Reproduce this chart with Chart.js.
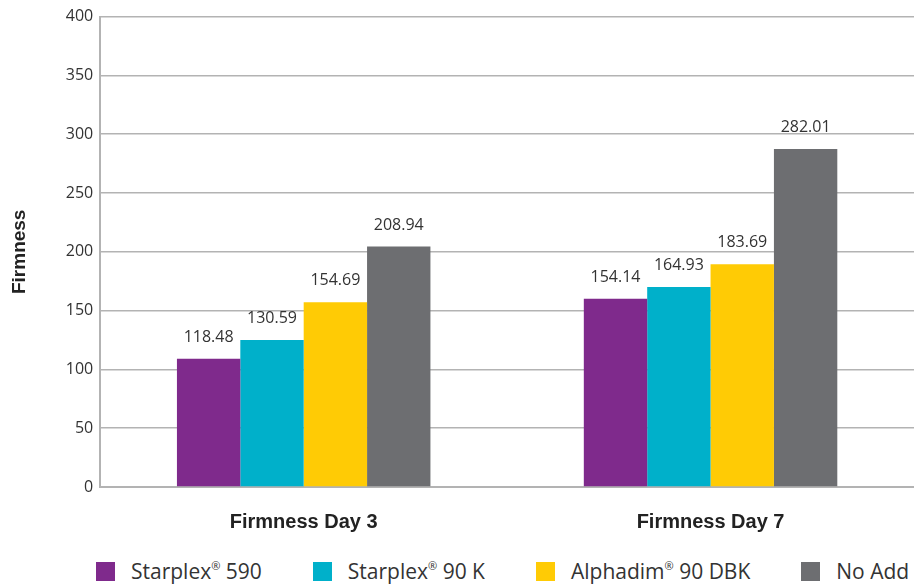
<!DOCTYPE html>
<html>
<head>
<meta charset="utf-8">
<script src="https://cdn.jsdelivr.net/npm/chart.js@4"></script>
<style>
  html, body { margin: 0; padding: 0; background: #fff; }
  #wrap { width: 914px; height: 585px; position: relative; }
  #plot { position: absolute; left: 0; top: 0; width: 914px; height: 557px; }
  #legend {
    position: absolute; left: 96px; top: 558px; display: flex; gap: 51px;
    font-family: 'Open Sans', sans-serif; font-size: 21px; color: #333;
  }
  .item { display: flex; align-items: center; gap: 16px; line-height: 27px; }
  .box { width: 19px; height: 19px; }
  sup { font-size: 11px; vertical-align: 9px; line-height: 0; }
</style>
</head>
<body>
<div id="wrap">
  <div id="plot"><canvas id="chart"></canvas></div>
  <div id="legend"></div>
</div>
<script>
// ── Data ──────────────────────────────────────────────────────
const categories = ['Firmness Day 3', 'Firmness Day 7'];
const seriesNames = ['Starplex® 590', 'Starplex® 90 K', 'Alphadim® 90 DBK', 'No Add'];
const seriesColors = ['#7F2A8C', '#00B0CA', '#FFCB05', '#6D6E71'];
// bar heights as drawn in the picture
const barsDay = [
  [109, 160],    // Starplex 590
  [125, 170],    // Starplex 90 K
  [157, 189.5],  // Alphadim 90 DBK
  [204.5, 287.5] // No Add
];
// value labels printed above the bars
const labelsDay = [
  ['118.48', '154.14'],
  ['130.59', '164.93'],
  ['154.69', '183.69'],
  ['208.94', '282.01']
];
const yTicks = [0, 50, 100, 150, 200, 250, 300, 350, 400];

const FONT = "'Open Sans', sans-serif";
const BOLD = "'Liberation Sans', Arial, sans-serif";
const TEXT = '#333333';
const GRID = '#b3b3b3';

// ── Value labels plugin ───────────────────────────────────────
const barLabels = {
  id: 'barLabels',
  afterDatasetsDraw(chart) {
    const { ctx } = chart;
    ctx.save();
    ctx.font = `16px ${FONT}`;
    ctx.fillStyle = TEXT;
    ctx.textAlign = 'center';
    ctx.textBaseline = 'alphabetic';
    chart.data.datasets.forEach((ds, i) => {
      chart.getDatasetMeta(i).data.forEach((bar, j) => {
        ctx.fillText(labelsDay[i][j], bar.x, bar.y - 17);
      });
    });
    ctx.restore();
  }
};

new Chart(document.getElementById('chart'), {
  type: 'bar',
  data: {
    labels: categories,
    datasets: seriesNames.map((name, i) => ({
      label: name,
      data: barsDay[i],
      backgroundColor: seriesColors[i],
      borderWidth: 0,
      barPercentage: 1,
      categoryPercentage: 0.623,
    })),
  },
  options: {
    responsive: true, maintainAspectRatio: false, animation: false,
    layout: { padding: { top: 1, right: 0, left: 4, bottom: 8 } },
    plugins: {
      tooltip: { enabled: false },
      legend: { display: false },
    },
    scales: {
      x: {
        grid: { display: false },
        border: { color: GRID, width: 2 },
        ticks: { color: '#222', font: { family: BOLD, size: 20, weight: 'bold' }, padding: 15 },
      },
      y: {
        min: 0, max: 400,
        afterBuildTicks: (axis) => { axis.ticks = yTicks.map(v => ({ value: v })); },
        grid: { color: GRID, lineWidth: 1.5, drawTicks: false },
        border: { color: GRID, width: 2 },
        ticks: { color: TEXT, font: { family: FONT, size: 16 }, padding: 7 },
        title: {
          display: true, text: 'Firmness', color: '#222',
          font: { family: BOLD, size: 19, weight: 'bold' }, padding: { bottom: 28 },
        },
      },
    },
  },
  plugins: [barLabels],
});

// ── Legend (HTML, built from the series arrays) ───────────────
document.getElementById('legend').innerHTML = seriesNames.map((name, i) => `
  <div class="item">
    <div class="box" style="background:${seriesColors[i]}"></div>
    <span>${name.replace('®', '<sup>®</sup>')}</span>
  </div>`).join('');
</script>
</body>
</html>
